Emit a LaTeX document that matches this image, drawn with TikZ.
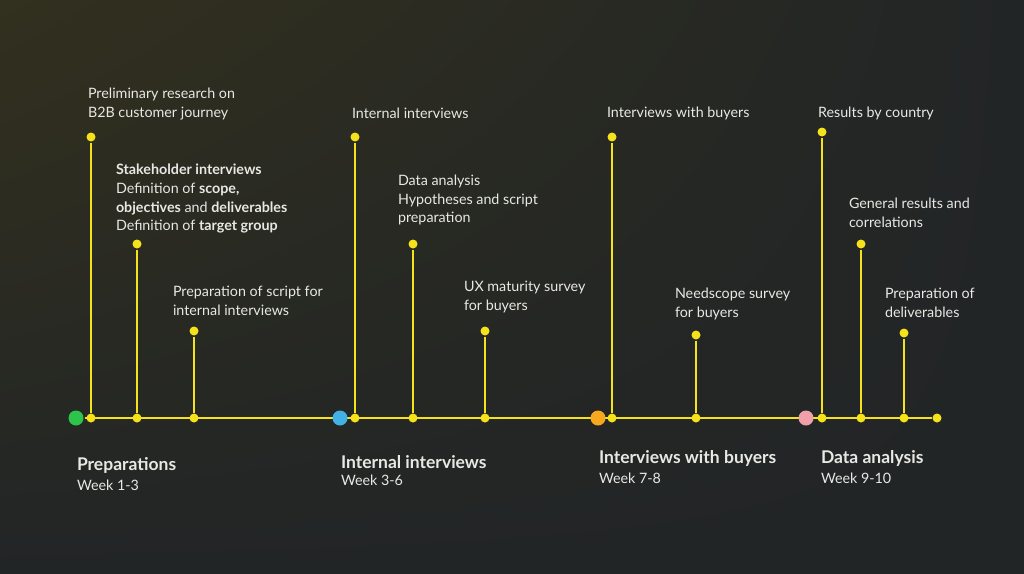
\documentclass[tikz,border=0pt]{standalone}
\usepackage{fontspec}
\setmainfont{Lato}
\usetikzlibrary{positioning,shadings}
\definecolor{bgdark}{RGB}{34,37,38}
\definecolor{bgolive}{RGB}{50,48,30}
\definecolor{tlyellow}{RGB}{246,226,26}
\definecolor{txtgray}{RGB}{232,232,228}
\definecolor{dotgreen}{RGB}{44,196,74}
\definecolor{dotblue}{RGB}{66,178,230}
\definecolor{dotorange}{RGB}{246,168,30}
\definecolor{dotpink}{RGB}{240,160,168}
\tikzstyle{dot}=[circle, fill=tlyellow, inner sep=0pt, minimum size=9pt]
\tikzstyle{phase}=[circle, inner sep=0pt, minimum size=15pt]
\tikzstyle{task}=[anchor=north west, inner sep=0pt, align=left, text=txtgray, font=\fontsize{14.3}{18.7}\selectfont]
\tikzstyle{title}=[anchor=north west, inner sep=0pt, align=left, text=txtgray, font=\fontsize{17.5}{20}\selectfont\bfseries]
\tikzstyle{week}=[anchor=north west, inner sep=0pt, align=left, text=txtgray, font=\fontsize{14.3}{18}\selectfont]
\begin{document}
\begin{tikzpicture}[x=1pt, y=-1pt, line width=2pt]
      %
      \shade[upper left=bgolive, upper right=bgdark, lower left=bgdark, lower right=bgdark] (0,0) rectangle (1024,573);
      \path[use as bounding box] (0,0) rectangle (1024,573);
      %
      % Time line
      %
      \path node[dot] (end) at (937,418) {};
      \path node[phase, fill=dotgreen] (prep) at (76,418) {};
      \draw[tlyellow] (prep) -- (end);
      %
      % Tasks: stems from top dot to bottom dot
      %
      \foreach \name/\x/\top in {a/91/137, b/137/244, c/194/331, d/355/137, e/413/244, f/485/331,
                                 g/612/137, h/696/335, i/822/132, j/861/244, k/904/333} {
        \path node[dot] (\name top) at (\x,\top) {};
        \path node[dot] (\name bot) at (\x,418) {};
        \draw[tlyellow] (\name top) -- (\name bot);
      }
      %
      % Phase markers
      %
      \path node[phase, fill=dotblue] (intv) at (340,418) {};
      \path node[phase, fill=dotorange] (buyv) at (598,418) {};
      \path node[phase, fill=dotpink] (anal) at (806,418) {};
      %
      % Task labels
      %
      \path node[task] (research) at (87,87) {Preliminary research on\\B2B customer journey};
      \path node[task] (stake) at (115,163) {\textbf{Stakeholder interviews}\\Definition of \textbf{scope,}\\\textbf{objectives} and \textbf{deliverables}\\Definition of \textbf{target group}};
      \path node[task] (script) at (172,285) {Preparation of script for\\internal interviews};
      \path node[task] (internal) at (351,107) {Internal interviews};
      \path node[task] (data) at (397,174) {Data analysis\\Hypotheses and script\\preparation};
      \path node[task] (ux) at (463,280) {UX maturity survey\\for buyers};
      \path node[task] (buyers) at (606,106) {Interviews with buyers};
      \path node[task] (needs) at (674,287) {Needscope survey\\for buyers};
      \path node[task] (country) at (817,106) {Results by country};
      \path node[task] (general) at (848,197) {General results and\\correlations};
      \path node[task] (deliv) at (884,287) {Preparation of\\deliverables};
      %
      % Phase labels
      %
      \path node[title] (preptitle) at (76,456) {Preparations};
      \path node[week, below=5pt of preptitle.south west, anchor=north west] {Week 1-3};
      \path node[title] (intvtitle) at (340,454) {Internal interviews};
      \path node[week, below=5pt of intvtitle.south west, anchor=north west] {Week 3-6};
      \path node[title] (buyvtitle) at (598,449) {Interviews with buyers};
      \path node[week, below=5pt of buyvtitle.south west, anchor=north west] {Week 7-8};
      \path node[title] (analtitle) at (820,449) {Data analysis};
      \path node[week, below=5pt of analtitle.south west, anchor=north west] {Week 9-10};
      %
\end{tikzpicture}
\end{document}
